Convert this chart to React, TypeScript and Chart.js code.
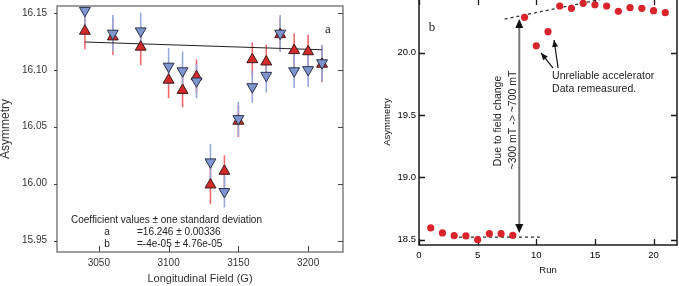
import React, { useEffect, useRef } from "react";
import { Chart, registerables } from "chart.js";
Chart.register(...registerables);

// ---------- Panel a data ----------
const fieldG = [3040, 3060, 3080, 3100, 3110, 3120, 3130, 3140, 3150, 3160, 3170, 3180, 3190, 3200, 3210];
const asymUp = [16.134, 16.129, 16.12, 16.091, 16.082, 16.094, 15.999, 16.011, 16.055, 16.109, 16.107, 16.131, 16.117, 16.116, 16.105];
const errUp = [0.016, 0.016, 0.016, 0.016, 0.015, 0.015, 0.017, 0.014, 0.014, 0.015, 0.015, 0.015, 0.015, 0.015, 0.016];
const asymDown = [16.152, 16.132, 16.134, 16.103, 16.099, 16.09, 16.019, 15.993, 16.057, 16.085, 16.095, 16.132, 16.099, 16.1, 16.106];
const errDown = [0.016, 0.016, 0.016, 0.016, 0.017, 0.015, 0.016, 0.014, 0.015, 0.014, 0.015, 0.016, 0.015, 0.015, 0.016];
const fitX = [3040, 3210];
const fitY = [16.1244, 16.1176];
const fieldTicks = [3050, 3100, 3150, 3200];
const asymTicksA = [15.95, 16.0, 16.05, 16.1, 16.15];
const coefLines = [
  ["", "Coefficient values \u00b1 one standard deviation"],
  ["a", "=16.246 \u00b1 0.00336"],
  ["b", "=-4e-05 \u00b1 4.76e-05"],
];

// ---------- Panel b data ----------
const runs = [1, 2, 3, 4, 5, 6, 7, 8, 9, 10, 11, 12, 13, 14, 15, 16, 17, 18, 19, 20, 21];
const asymB = [18.594, 18.554, 18.532, 18.53, 18.5, 18.548, 18.548, 18.535, 20.284, 20.056, 20.169, 20.375, 20.356, 20.396, 20.385, 20.375, 20.332, 20.361, 20.356, 20.337, 20.321];
const lowDashX = [2.9, 10.3];
const lowDashY = [18.52, 18.52];
const highDashX = [7.3, 15.6];
const highDashY = [20.27, 20.43];
const shiftArrowX = 8.55;
const shiftArrowY = [18.553, 20.27];
const runTicks = [0, 5, 10, 15, 20];
const asymTicksB = [18.5, 19.0, 19.5, 20.0];
const noteArrowFrom = [[11.43, 19.877], [11.86, 19.877]];
const noteArrowTo = [[10.41, 19.998], [11.52, 20.102]];

const SANS = '"Liberation Sans", Arial, Helvetica, sans-serif';
const SERIF = '"Liberation Serif", "DejaVu Serif", serif';
Chart.defaults.font.family = SANS;

function arrowHead(ctx: CanvasRenderingContext2D, x1: number, y1: number, x2: number, y2: number, len: number, hw: number) {
  const a = Math.atan2(y2 - y1, x2 - x1);
  const bx = x2 - len * Math.cos(a);
  const by = y2 - len * Math.sin(a);
  ctx.beginPath();
  ctx.moveTo(x2, y2);
  ctx.lineTo(bx + hw * Math.sin(a), by - hw * Math.cos(a));
  ctx.lineTo(bx - hw * Math.sin(a), by + hw * Math.cos(a));
  ctx.closePath();
  ctx.fill();
}

const zeroPad = (s: any) => {
  s.paddingTop = 0;
  s.paddingBottom = 0;
  s.paddingLeft = 0;
  s.paddingRight = 0;
};

const panelAPlugin = {
  id: "panelA",
  beforeDatasetsDraw(chart: any) {
    const { ctx, chartArea: ca, scales } = chart;
    const x = scales.x, y = scales.y;
    ctx.save();
    ctx.strokeStyle = "#6a6a6a";
    ctx.lineWidth = 1.3;
    ctx.strokeRect(ca.left, ca.top, ca.right - ca.left, ca.bottom - ca.top);
    ctx.lineWidth = 1;
    ctx.strokeStyle = "#444";
    ctx.beginPath();
    asymTicksA.forEach((v) => {
      const py = Math.round(y.getPixelForValue(v)) + 0.5;
      ctx.moveTo(ca.left - 3, py);
      ctx.lineTo(ca.left, py);
      ctx.moveTo(ca.right - 5, py);
      ctx.lineTo(ca.right, py);
    });
    fieldTicks.forEach((v) => {
      const px = Math.round(x.getPixelForValue(v)) + 0.5;
      ctx.moveTo(px, ca.bottom);
      ctx.lineTo(px, ca.bottom - 6);
    });
    ctx.stroke();
    ctx.beginPath();
    ctx.rect(ca.left, ca.top, ca.right - ca.left, ca.bottom - ca.top);
    ctx.clip();
    const bars = (vals: number[], errs: number[], color: string) => {
      ctx.strokeStyle = color;
      ctx.lineWidth = 1.6;
      fieldG.forEach((f, i) => {
        const px = x.getPixelForValue(f);
        ctx.beginPath();
        ctx.moveTo(px, y.getPixelForValue(vals[i] - errs[i]));
        ctx.lineTo(px, y.getPixelForValue(vals[i] + errs[i]));
        ctx.stroke();
      });
    };
    bars(asymUp, errUp, "#f06a6a");
    bars(asymDown, errDown, "#97a8d8");
    ctx.restore();
  },
  afterDraw(chart: any) {
    const { ctx, chartArea: ca } = chart;
    ctx.save();
    ctx.fillStyle = "#222";
    ctx.textBaseline = "middle";
    ctx.font = `10px ${SANS}`;
    const baseY = ca.bottom - 32;
    coefLines.forEach((row, i) => {
      const yy = baseY + i * 12;
      if (i === 0) {
        ctx.textAlign = "left";
        ctx.fillText(row[1], ca.left + 14, yy);
      } else {
        ctx.textAlign = "center";
        ctx.fillText(row[0], ca.left + 50, yy);
        ctx.textAlign = "left";
        ctx.fillText(row[1], ca.left + 80, yy);
      }
    });
    ctx.font = `13px ${SERIF}`;
    ctx.textAlign = "center";
    ctx.fillText("a", ca.right - 15, ca.top + 24);
    ctx.restore();
  },
};

const panelBPlugin = {
  id: "panelB",
  beforeDatasetsDraw(chart: any) {
    const { ctx, chartArea: ca, scales } = chart;
    const x = scales.x, y = scales.y;
    ctx.save();
    ctx.strokeStyle = "#1a1a1a";
    ctx.lineWidth = 1.5;
    ctx.strokeRect(ca.left, ca.top, ca.right - ca.left, ca.bottom - ca.top);
    ctx.lineWidth = 1.3;
    ctx.beginPath();
    asymTicksB.forEach((v) => {
      const py = Math.round(y.getPixelForValue(v)) + 0.5;
      ctx.moveTo(ca.left, py);
      ctx.lineTo(ca.left + 6, py);
      ctx.moveTo(ca.right - 6, py);
      ctx.lineTo(ca.right, py);
    });
    runTicks.forEach((v) => {
      const px = Math.round(x.getPixelForValue(v)) + 0.5;
      ctx.moveTo(px, ca.bottom);
      ctx.lineTo(px, ca.bottom - 6);
      ctx.moveTo(px, ca.top);
      ctx.lineTo(px, ca.top + 6);
    });
    ctx.stroke();
    ctx.restore();
  },
  afterDatasetsDraw(chart: any) {
    const { ctx, scales } = chart;
    const x = scales.x, y = scales.y;
    ctx.save();
    const ax = x.getPixelForValue(shiftArrowX);
    const yb = y.getPixelForValue(shiftArrowY[0]);
    const yt = y.getPixelForValue(shiftArrowY[1]);
    ctx.strokeStyle = "#7a7a7a";
    ctx.lineWidth = 2;
    ctx.beginPath();
    ctx.moveTo(ax, yt + 8);
    ctx.lineTo(ax, yb - 8);
    ctx.stroke();
    ctx.fillStyle = "#111";
    arrowHead(ctx, ax, yb - 10, ax, yb, 9, 4);
    arrowHead(ctx, ax, yt + 10, ax, yt, 9, 4);
    ctx.strokeStyle = "#111";
    ctx.lineWidth = 1.2;
    noteArrowFrom.forEach((f, i) => {
      const x1 = x.getPixelForValue(f[0]), y1 = y.getPixelForValue(f[1]);
      const x2 = x.getPixelForValue(noteArrowTo[i][0]), y2 = y.getPixelForValue(noteArrowTo[i][1]);
      ctx.beginPath();
      ctx.moveTo(x1, y1);
      ctx.lineTo(x2, y2);
      ctx.stroke();
      arrowHead(ctx, x1, y1, x2, y2, 7, 3);
    });
    ctx.fillStyle = "#222";
    ctx.font = `10.5px ${SANS}`;
    ctx.textBaseline = "middle";
    ctx.textAlign = "left";
    ctx.fillText("Unreliable accelerator", x.getPixelForValue(11.35), y.getPixelForValue(19.813));
    ctx.fillText("Data remeasured.", x.getPixelForValue(11.35), y.getPixelForValue(19.709));
    const rot = (t: string, dx: number, dy: number) => {
      ctx.save();
      ctx.translate(x.getPixelForValue(dx), y.getPixelForValue(dy));
      ctx.rotate(-Math.PI / 2);
      ctx.textAlign = "center";
      ctx.fillText(t, 0, 0);
      ctx.restore();
    };
    rot("Due to field change", 6.74, 19.452);
    rot("~300 mT -> ~700 mT", 8.02, 19.46);
    ctx.font = `13px ${SERIF}`;
    ctx.textAlign = "center";
    ctx.fillText("b", x.getPixelForValue(1.1), y.getPixelForValue(20.2));
    ctx.restore();
  },
};

export default function App() {
  const refA = useRef<HTMLCanvasElement>(null);
  const refB = useRef<HTMLCanvasElement>(null);

  useEffect(() => {
    const chartA = new Chart(refA.current!, {
      type: "scatter",
      data: {
        datasets: [
          {
            type: "scatter",
            data: fieldG.map((f, i) => ({ x: f, y: asymDown[i] })),
            pointStyle: "triangle",
            rotation: 180,
            pointRadius: 6.3,
            backgroundColor: "#7e96cf",
            borderColor: "#2b3248",
            borderWidth: 1,
            order: 1,
            clip: false,
          } as any,
          {
            type: "scatter",
            data: fieldG.map((f, i) => ({ x: f, y: asymUp[i] })),
            pointStyle: "triangle",
            pointRadius: 6.3,
            backgroundColor: "#d42a2a",
            borderColor: "#3a1a1a",
            borderWidth: 1,
            order: 2,
            clip: false,
          } as any,
          {
            type: "line",
            data: fitX.map((f, i) => ({ x: f, y: fitY[i] })),
            borderColor: "#222",
            borderWidth: 1.2,
            pointRadius: 0,
            order: 3,
          } as any,
        ],
      },
      options: {
        responsive: false,
        animation: false,
        layout: { autoPadding: false, padding: { top: 6, right: 2, left: 0, bottom: 0 } },
        plugins: { legend: { display: false }, tooltip: { enabled: false } },
        scales: {
          x: {
            type: "linear",
            min: 3020,
            max: 3225,
            afterBuildTicks: (s: any) => { s.ticks = fieldTicks.map((v) => ({ value: v })); },
            afterFit: (s: any) => { s.height = 34; zeroPad(s); },
            grid: { display: false, drawTicks: false },
            border: { display: false },
            ticks: { font: { size: 10 }, color: "#333", padding: 5, callback: (v: any) => String(v) },
            title: { display: true, text: "Longitudinal Field (G)", font: { size: 11, lineHeight: 1.2 }, color: "#333", padding: 0 },
          },
          y: {
            type: "linear",
            min: 15.94,
            max: 16.156,
            afterBuildTicks: (s: any) => { s.ticks = asymTicksA.map((v) => ({ value: v })); },
            afterFit: (s: any) => { s.width = 57; zeroPad(s); },
            grid: { display: false, drawTicks: false },
            border: { display: false },
            ticks: { font: { size: 10 }, color: "#333", padding: 10, callback: (v: any) => Number(v).toFixed(2) },
            title: { display: true, text: "Asymmetry", font: { size: 12, lineHeight: 1 }, color: "#333", padding: { top: -0.5, bottom: 0 } },
          },
        },
      } as any,
      plugins: [panelAPlugin],
    });

    const chartB = new Chart(refB.current!, {
      type: "scatter",
      data: {
        datasets: [
          {
            type: "scatter",
            data: runs.map((r, i) => ({ x: r, y: asymB[i] })),
            pointStyle: "circle",
            pointRadius: 3.6,
            backgroundColor: "#d8242b",
            borderWidth: 0,
            order: 1,
            clip: false,
          } as any,
          {
            type: "line",
            data: lowDashX.map((v, i) => ({ x: v, y: lowDashY[i] })),
            borderColor: "#333",
            borderWidth: 1.3,
            borderDash: [3, 3],
            pointRadius: 0,
            order: 2,
          } as any,
          {
            type: "line",
            data: highDashX.map((v, i) => ({ x: v, y: highDashY[i] })),
            borderColor: "#333",
            borderWidth: 1.3,
            borderDash: [3, 3],
            pointRadius: 0,
            order: 3,
          } as any,
        ],
      },
      options: {
        responsive: false,
        animation: false,
        layout: { autoPadding: false, padding: { top: 9, right: 2, left: 0, bottom: 0 } },
        plugins: { legend: { display: false }, tooltip: { enabled: false } },
        scales: {
          x: {
            type: "linear",
            min: 0,
            max: 22,
            afterBuildTicks: (s: any) => { s.ticks = runTicks.map((v) => ({ value: v })); },
            afterFit: (s: any) => { s.height = 41; zeroPad(s); },
            grid: { display: false, drawTicks: false },
            border: { display: false },
            ticks: { font: { size: 9.5 }, color: "#000", padding: 5, callback: (v: any) => String(v) },
            title: { display: true, text: "Run", font: { size: 9.5, lineHeight: 1 }, color: "#111", padding: { top: 0, bottom: 11.25 } },
          },
          y: {
            type: "linear",
            min: 18.457,
            max: 20.431,
            afterBuildTicks: (s: any) => { s.ticks = asymTicksB.map((v) => ({ value: v })); },
            afterFit: (s: any) => { s.width = 74; zeroPad(s); },
            grid: { display: false, drawTicks: false },
            border: { display: false },
            ticks: { font: { size: 9.5 }, color: "#000", padding: 3, callback: (v: any) => Number(v).toFixed(1) },
            title: { display: true, text: "Asymmetry", font: { size: 9.5, lineHeight: 1 }, color: "#111", padding: { top: 38, bottom: 0 } },
          },
        },
      } as any,
      plugins: [panelBPlugin],
    });

    return () => {
      chartA.destroy();
      chartB.destroy();
    };
  }, []);

  return (
    <div style={{ position: "absolute", left: 0, top: 0, width: 679, height: 286, overflow: "hidden", background: "#fff" }}>
      <canvas ref={refA} width={345} height={286} style={{ position: "absolute", left: 0, top: 0 }} />
      <canvas ref={refB} width={334} height={296} style={{ position: "absolute", left: 345, top: -10 }} />
    </div>
  );
}
